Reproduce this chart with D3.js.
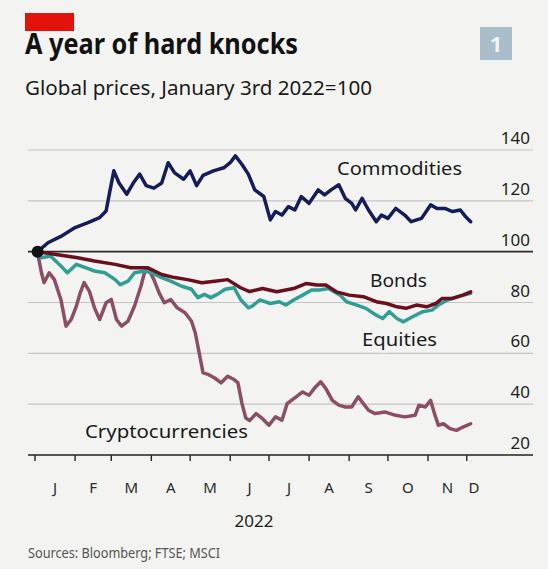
<!DOCTYPE html>
<html>
<head>
<meta charset="utf-8">
<script src="https://cdn.jsdelivr.net/npm/d3@7"></script>
<style>
  html, body { margin: 0; padding: 0; background: #f3f3f1; }
  svg { display: block; }
  text { font-family: "Noto Sans", "Open Sans", sans-serif; }
</style>
</head>
<body>
<svg id="chart" width="548" height="569"></svg>
<script>
// ---- Data ----
const yTicks = [20, 40, 60, 80, 100, 120, 140];
const monthLabels = ["J","F","M","A","M","J","J","A","S","O","N","D"];

const commodities = [
  ["2022-01-03",100],["2022-01-11",103.5],["2022-01-21",106],["2022-02-01",109.5],
  ["2022-02-11",111.4],["2022-02-20",113.4],["2022-02-25",116],["2022-02-28",124],
  ["2022-03-03",131.8],["2022-03-07",127],["2022-03-13",122.6],["2022-03-18",127],
  ["2022-03-23",130.5],["2022-03-28",126],["2022-04-03",125],["2022-04-09",127],
  ["2022-04-14",135],["2022-04-19",131],["2022-04-26",128.5],["2022-05-01",131.8],
  ["2022-05-06",126],["2022-05-11",130],["2022-05-19",131.8],["2022-05-27",133],
  ["2022-06-01",135],["2022-06-05",137.7],["2022-06-10",134.4],["2022-06-15",130.5],
  ["2022-06-20",124.3],["2022-06-27",121.7],["2022-07-02",112.5],["2022-07-06",115.8],
  ["2022-07-11",114.4],["2022-07-16",117.7],["2022-07-21",116.4],["2022-07-26",121.7],
  ["2022-08-01",119],["2022-08-08",124.3],["2022-08-13",122.3],["2022-08-18",124.3],
  ["2022-08-24",126.3],["2022-08-29",121],["2022-09-03",119],["2022-09-06",116.4],
  ["2022-09-11",121],["2022-09-16",116.4],["2022-09-22",111.8],["2022-09-26",114.4],
  ["2022-10-01",113.1],["2022-10-07",117],["2022-10-14",114.4],["2022-10-19",111.8],
  ["2022-10-27",113.1],["2022-11-03",118.4],["2022-11-08",117],["2022-11-14",117],
  ["2022-11-20",115.8],["2022-11-26",116.4],["2022-11-30",113.8],["2022-12-04",111.8]
];

const bonds = [
  ["2022-01-03",100],["2022-01-16",99],["2022-02-03",97.6],["2022-02-16",96.3],
  ["2022-03-04",95],["2022-03-16",93.7],["2022-03-29",93.7],["2022-04-09",91],
  ["2022-04-19",89.8],["2022-04-29",89],["2022-05-10",87.8],["2022-05-20",88.4],
  ["2022-05-30",89],["2022-06-09",85.8],["2022-06-16",84.3],["2022-06-26",85.5],
  ["2022-07-07",84.2],["2022-07-20",85.5],["2022-07-30",87.5],["2022-08-07",86.9],
  ["2022-08-14",86.9],["2022-08-22",84.2],["2022-09-01",82.9],["2022-09-12",82.3],
  ["2022-09-22",80.3],["2022-09-30",79.6],["2022-10-08",78.3],["2022-10-15",77.7],
  ["2022-10-23",79],["2022-10-31",78.3],["2022-11-07",79.6],["2022-11-12",81.6],
  ["2022-11-20",81.6],["2022-11-28",82.9],["2022-12-04",84.2]
];

const equities = [
  ["2022-01-03",100],["2022-01-06",97.6],["2022-01-13",98.3],["2022-01-21",94.4],
  ["2022-01-26",91.7],["2022-02-02",95],["2022-02-09",93.7],["2022-02-16",92.4],
  ["2022-02-24",91.7],["2022-03-04",89],["2022-03-08",87],["2022-03-14",88.4],
  ["2022-03-19",91.7],["2022-03-27",92.4],["2022-04-01",91.7],["2022-04-09",89.8],
  ["2022-04-16",88.4],["2022-04-24",86.5],["2022-05-02",85.2],["2022-05-07",81.9],
  ["2022-05-12",83.2],["2022-05-17",81.9],["2022-05-22",83.2],["2022-05-28",85.2],
  ["2022-06-04",85.8],["2022-06-09",81.2],["2022-06-15",77.9],["2022-06-18",78.6],
  ["2022-06-24",81],["2022-07-02",79.6],["2022-07-09",80.3],["2022-07-14",79],
  ["2022-07-20",81],["2022-07-27",82.9],["2022-08-03",84.9],["2022-08-09",84.9],
  ["2022-08-16",85.5],["2022-08-25",82.9],["2022-08-30",80.3],["2022-09-07",79],
  ["2022-09-14",77.7],["2022-09-22",75],["2022-09-27",73.7],["2022-10-02",76.4],
  ["2022-10-08",73.7],["2022-10-13",72.4],["2022-10-20",74.4],["2022-10-28",76.4],
  ["2022-11-04",77],["2022-11-09",79],["2022-11-16",81],["2022-11-24",82.3],
  ["2022-12-04",83.6]
];

const crypto = [
  ["2022-01-03",100],["2022-01-04",97],["2022-01-06",91.7],["2022-01-08",87.8],
  ["2022-01-12",91.7],["2022-01-16",89],["2022-01-21",81.2],["2022-01-25",70.7],
  ["2022-01-29",73.3],["2022-02-02",78.6],["2022-02-05",83.8],["2022-02-08",87.8],
  ["2022-02-12",84.5],["2022-02-16",77.9],["2022-02-20",73.3],["2022-02-25",79.9],
  ["2022-03-01",81.2],["2022-03-05",73.3],["2022-03-09",70.7],["2022-03-14",72.7],
  ["2022-03-19",78.6],["2022-03-24",86.5],["2022-03-27",92.4],["2022-03-30",93],
  ["2022-04-03",89],["2022-04-07",83.8],["2022-04-11",79.9],["2022-04-16",81.2],
  ["2022-04-21",77.9],["2022-04-27",76],["2022-05-02",72.7],["2022-05-05",68],
  ["2022-05-08",60.2],["2022-05-11",52.3],["2022-05-15",51.7],["2022-05-20",50.3],
  ["2022-05-25",48.4],["2022-05-30",51],["2022-06-04",49.7],["2022-06-07",48.4],
  ["2022-06-10",40.5],["2022-06-13",34.6],["2022-06-16",33.5],["2022-06-21",36.3],
  ["2022-06-26",34.3],["2022-07-01",31.7],["2022-07-06",35],["2022-07-11",33.7],
  ["2022-07-15",40.2],["2022-07-22",42.9],["2022-07-27",44.8],["2022-08-01",43.5],
  ["2022-08-06",46.8],["2022-08-10",48.8],["2022-08-14",46.1],["2022-08-19",41.5],
  ["2022-08-24",39.6],["2022-08-29",38.9],["2022-09-03",38.9],["2022-09-08",42.9],
  ["2022-09-12",40.2],["2022-09-16",37.6],["2022-09-21",36.3],["2022-09-29",36.9],
  ["2022-10-07",35.6],["2022-10-14",35],["2022-10-22",35.6],["2022-10-25",39.6],
  ["2022-10-30",38.9],["2022-11-03",41.5],["2022-11-06",36.3],["2022-11-09",31.7],
  ["2022-11-13",32.3],["2022-11-18",30.4],["2022-11-23",29.7],["2022-11-28",31],
  ["2022-12-04",32.3]
];

// ---- Drawing ----
const parse = d3.timeParse("%Y-%m-%d");
const svg = d3.select("#chart");

const xStart = parse("2022-01-01"), xEnd = parse("2022-12-12");
const x = d3.scaleTime().domain([xStart, xEnd]).range([35, 481]);
const y = d3.scaleLinear().domain([20, 140]).range([455, 150]);
const gridLeft = 28, gridRight = 533;

// header
svg.append("rect").attr("x", 25).attr("y", 13).attr("width", 49).attr("height", 18).attr("fill", "#e3120b");
svg.append("rect").attr("x", 480).attr("y", 27).attr("width", 32).attr("height", 33).attr("fill", "#a9bdca");
svg.append("text").attr("x", 496).attr("y", 52).attr("text-anchor", "middle")
  .attr("font-size", 22).attr("font-weight", 700).attr("fill", "#f3f3f1").text("1");

svg.append("text").attr("x", 25).attr("y", 54)
  .attr("font-size", 28).attr("font-weight", 700).attr("fill", "#121212")
  .attr("textLength", 273).attr("lengthAdjust", "spacingAndGlyphs")
  .text("A year of hard knocks");
svg.append("text").attr("x", 25).attr("y", 95)
  .attr("font-size", 19).attr("fill", "#1a1a1a")
  .attr("textLength", 347).attr("lengthAdjust", "spacingAndGlyphs")
  .text("Global prices, January 3rd 2022=100");

// gridlines
svg.append("g").selectAll("line").data(yTicks.filter(v => v !== 20 && v !== 100)).join("line")
  .attr("x1", gridLeft).attr("x2", gridRight)
  .attr("y1", d => y(d)).attr("y2", d => y(d))
  .attr("stroke", "#c4c4c4").attr("stroke-width", 1.2);

// y labels
svg.append("g").selectAll("text").data(yTicks).join("text")
  .attr("x", 530).attr("y", d => y(d) - 6)
  .attr("text-anchor", "end").attr("font-size", 17).attr("fill", "#1e1e1e")
  .text(d => d);

// baseline + x axis ticks
svg.append("line").attr("x1", gridLeft).attr("x2", gridRight)
  .attr("y1", y(20)).attr("y2", y(20)).attr("stroke", "#222").attr("stroke-width", 1.6);

const months = d3.timeMonth.range(xStart, xEnd);
svg.append("g").selectAll("line").data(months).join("line")
  .attr("x1", d => x(d)).attr("x2", d => x(d))
  .attr("y1", y(20)).attr("y2", y(20) + 6)
  .attr("stroke", "#222").attr("stroke-width", 1.4);

svg.append("g").selectAll("text").data(months).join("text")
  .attr("x", (d, i) => {
    const next = i < months.length - 1 ? months[i + 1] : xEnd;
    return (x(d) + x(next)) / 2;
  })
  .attr("y", 493).attr("text-anchor", "middle").attr("font-size", 15).attr("fill", "#2a2a2a")
  .text((d, i) => monthLabels[i]);

svg.append("text").attr("x", 254).attr("y", 527).attr("text-anchor", "middle")
  .attr("font-size", 17).attr("fill", "#1e1e1e").text("2022");

svg.append("text").attr("x", 28).attr("y", 558)
  .attr("font-size", 14).attr("fill", "#555")
  .attr("textLength", 192).attr("lengthAdjust", "spacingAndGlyphs")
  .text("Sources: Bloomberg; FTSE; MSCI");

// series labels (with halo knocking out gridlines)
const labels = [
  {t: "Commodities", x: 337, y: 175, w: 125},
  {t: "Bonds", x: 370, y: 287, w: 57},
  {t: "Equities", x: 362, y: 346, w: 75},
  {t: "Cryptocurrencies", x: 85, y: 438, w: 163}
];
svg.append("g").selectAll("text").data(labels).join("text")
  .attr("x", d => d.x).attr("y", d => d.y)
  .attr("font-size", 18).attr("fill", "#1a1a1a")
  .attr("stroke", "#f3f3f1").attr("stroke-width", 5).attr("paint-order", "stroke")
  .attr("textLength", d => d.w).attr("lengthAdjust", "spacingAndGlyphs")
  .text(d => d.t);

// 100 reference line
svg.append("line").attr("x1", gridLeft).attr("x2", gridRight)
  .attr("y1", y(100)).attr("y2", y(100)).attr("stroke", "#2b2b2b").attr("stroke-width", 1.8);

// series lines
const line = d3.line().x(d => x(parse(d[0]))).y(d => y(d[1]));
const series = [
  {data: crypto, color: "#8c4d66"},
  {data: equities, color: "#2f9e93"},
  {data: bonds, color: "#6a0f1e"},
  {data: commodities, color: "#141c5a"}
];
svg.append("g").selectAll("path").data(series).join("path")
  .attr("d", d => line(d.data))
  .attr("fill", "none").attr("stroke", d => d.color)
  .attr("stroke-width", 3.5).attr("stroke-linejoin", "round").attr("stroke-linecap", "round");

// start dot
svg.append("circle").attr("cx", x(parse(commodities[0][0]))).attr("cy", y(commodities[0][1]))
  .attr("r", 6).attr("fill", "#111");
</script>
</body>
</html>
